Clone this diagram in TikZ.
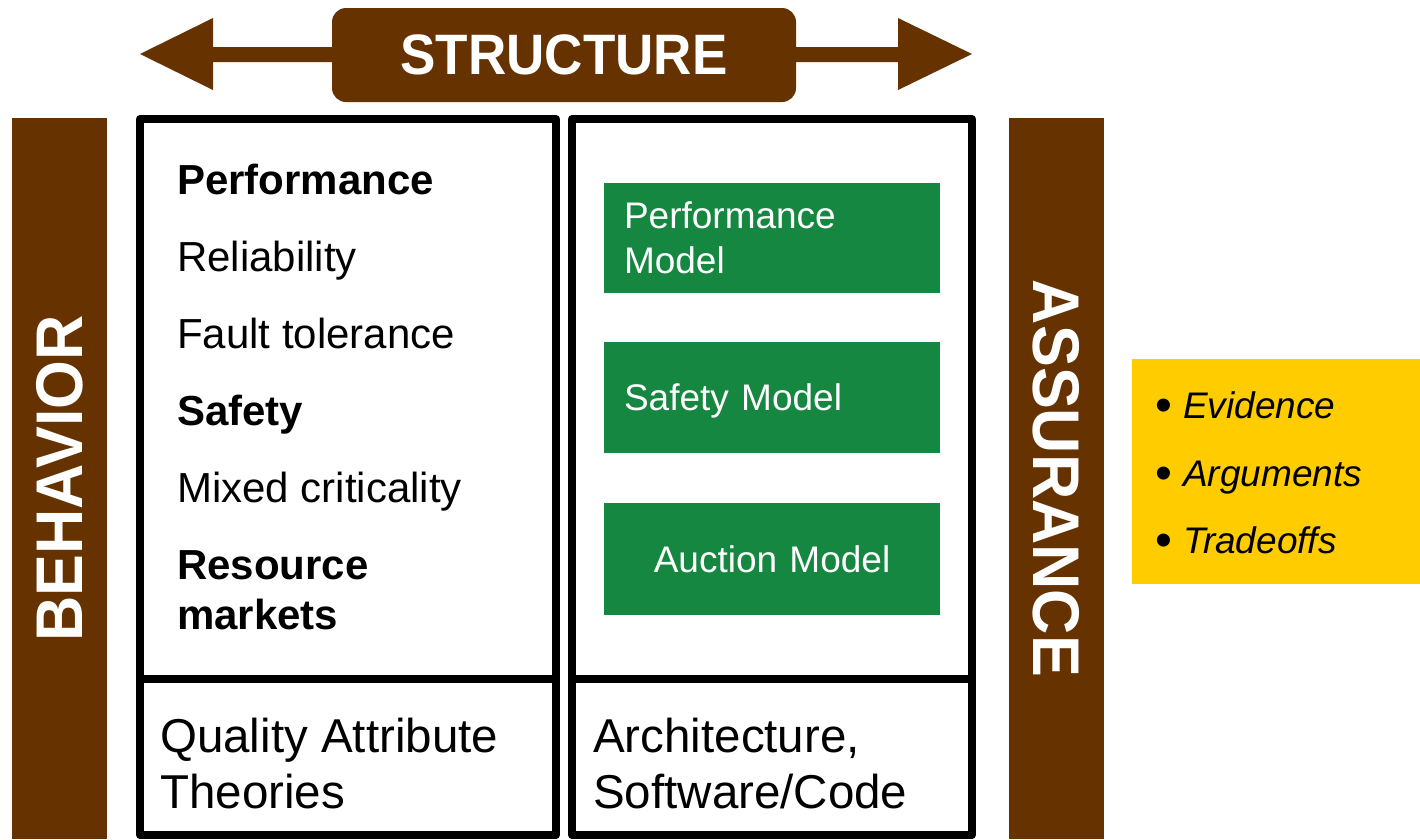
\documentclass[tikz,border=0pt]{standalone}
\usepackage{fontspec}
\setmainfont{Liberation Sans}
\usepackage{graphicx}
\definecolor{bbrown}{HTML}{663300}
\definecolor{ggreen}{HTML}{168740}
\definecolor{yyellow}{HTML}{FFCC00}
\newcommand{\ybullet}{\makebox[28pt][l]{\raisebox{-3pt}{\scalebox{1.3}{•}}}}
\tikzset{
  framebox/.style={draw=black, line width=8pt, line join=round, inner sep=0pt, outer sep=0pt, anchor=north west},
  bar/.style={fill=bbrown, inner sep=0pt, outer sep=0pt, anchor=north west, minimum width=95pt, minimum height=721pt},
  barlabel/.style={text=white, inner sep=0pt, font=\fontsize{66}{70}\selectfont\bfseries},
  gbox/.style={fill=ggreen, text=white, inner xsep=20pt, inner ysep=0pt, outer sep=0pt, anchor=north west,
    minimum width=336pt, text width=296pt, font=\fontsize{37}{45}\selectfont},
  item/.style={anchor=base west, inner sep=0pt, font=\fontsize{42}{50}\selectfont},
  bitem/.style={item, font=\fontsize{42}{50}\selectfont\bfseries},
  bottomtext/.style={anchor=base west, inner sep=0pt, font=\fontsize{47.5}{56}\selectfont},
  yitem/.style={anchor=base west, inner sep=0pt, font=\fontsize{37}{45}\selectfont},
}
\begin{document}
\begin{tikzpicture}[x=1pt,y=-1pt]
\fill[white] (0,0) rectangle (1420,839);
\useasboundingbox (0,0) rectangle (1420,839);

% structure double arrow
\fill[bbrown] (140,54) -- (213,18) -- (213,47) -- (898,47) -- (898,18) -- (972,54)
  -- (898,90) -- (898,62) -- (213,62) -- (213,90) -- cycle;
\node[fill=bbrown, rounded corners=14pt, minimum width=464pt, minimum height=94pt, inner sep=0pt, text=white,
  font=\fontsize{57}{60}\selectfont\bfseries] (structure) at (564,55) {\scalebox{0.93}[1]{STRUCTURE}};

% side bars
\node[bar] (behavior) at (12,118) {};
\node[barlabel, rotate=90] (behaviorlabel) at (behavior.center) {\scalebox{0.95}[1]{BEHAVIOR}};
\node[bar] (assurance) at (1009,118) {};
\node[barlabel, rotate=-90] (assurancelabel) at (assurance.center) {\scalebox{0.95}[1]{ASSURANCE}};

% frames
\node[framebox, minimum width=416pt, minimum height=560pt] (qtop) at (140,119) {};
\node[framebox, minimum width=416pt, minimum height=156pt] (qbot) at (140,679) {};
\node[framebox, minimum width=400pt, minimum height=560pt] (atop) at (572,119) {};
\node[framebox, minimum width=400pt, minimum height=156pt] (abot) at (572,679) {};

% left list
\node[bitem] (l1) at (177,194) {Performance};
\node[item]  (l2) at (177,271) {Reliability};
\node[item]  (l3) at (177,348) {Fault tolerance};
\node[bitem] (l4) at (177,425) {Safety};
\node[item]  (l5) at (177,502) {Mixed criticality};
\node[bitem] (l6) at (177,579) {Resource};
\node[bitem] (l7) at (177,629) {markets};

% green models
\node[gbox, minimum height=110pt, align=left] (pm) at (604,183) {Performance\\Model};
\node[gbox, minimum height=111pt, align=left, text depth=0pt] (sm) at (604,342) {Safety Model};
\node[gbox, minimum height=112pt, align=center, text depth=0pt] (am) at (604,503) {Auction Model};

% bottom labels
\node[bottomtext] (qa1) at (160,752) {Quality Attribute};
\node[bottomtext] (qa2) at (160,808) {Theories};
\node[bottomtext] (ar1) at (593,752) {Architecture,};
\node[bottomtext] (ar2) at (593,808) {Software/Code};

% yellow box
\node[fill=yyellow, inner sep=0pt, outer sep=0pt, anchor=north west, minimum width=288pt, minimum height=225pt] (ybox) at (1132,359) {};
\node[yitem] (y1) at (1155,418) {\ybullet\textit{Evidence}};
\node[yitem] (y2) at (1155,486) {\ybullet\textit{Arguments}};
\node[yitem] (y3) at (1155,553) {\ybullet\textit{Tradeoffs}};
\end{tikzpicture}
\end{document}
